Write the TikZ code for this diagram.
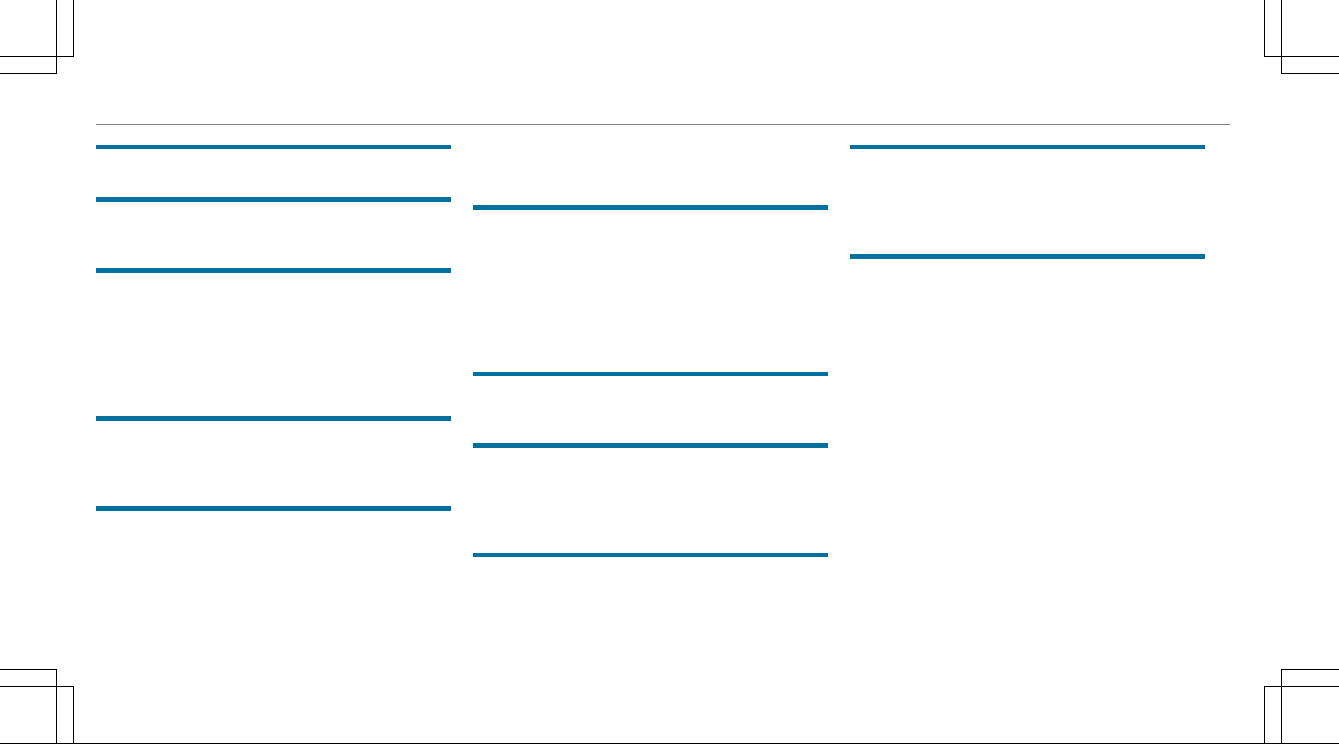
\documentclass[tikz,border=0pt]{standalone}
\usepackage{tikz}
\definecolor{barblue}{RGB}{0,113,158}
\definecolor{rulegray}{RGB}{128,128,128}
\tikzset{
  cropmark/.style={draw=black,line width=0.8pt},
  bluebar/.style={fill=barblue,draw=none},
  grayrule/.style={draw=rulegray,line width=1pt}
}
\begin{document}
\begin{tikzpicture}[x=1pt,y=-1pt]
\useasboundingbox (0,0) rectangle (1339,744);
% crop marks top-left
\draw[cropmark] (56.7,0) -- (56.7,73) -- (0,73);
\draw[cropmark] (73,0) -- (73,56.7) -- (0,56.7);
% top-right
\draw[cropmark] (1264.7,0) -- (1264.7,56.7) -- (1339,56.7);
\draw[cropmark] (1281.3,0) -- (1281.3,73) -- (1339,73);
% bottom-left
\draw[cropmark] (0,669.3) -- (56.7,669.3) -- (56.7,744);
\draw[cropmark] (0,686) -- (73,686) -- (73,744);
% bottom-right
\draw[cropmark] (1339,669.3) -- (1281.3,669.3) -- (1281.3,744);
\draw[cropmark] (1339,686) -- (1264.7,686) -- (1264.7,744);
% bottom edge
\draw[cropmark] (0,743.4) -- (1339,743.4);
% gray header rule
\draw[grayrule] (96,124.3) -- (1230,124.3);
% column 1 bars
\foreach \y in {147,199.2,270.7,418.3,508.7}
  \fill[bluebar] (96,\y-2.3) rectangle (451,\y+2.3);
% column 2 bars
\foreach \y in {207.3,374,445.3,555}
  \fill[bluebar] (473.3,\y-2.3) rectangle (827.7,\y+2.3);
% column 3 bars
\foreach \y in {147,256.3}
  \fill[bluebar] (850,\y-2.3) rectangle (1205,\y+2.3);
\end{tikzpicture}
\end{document}
